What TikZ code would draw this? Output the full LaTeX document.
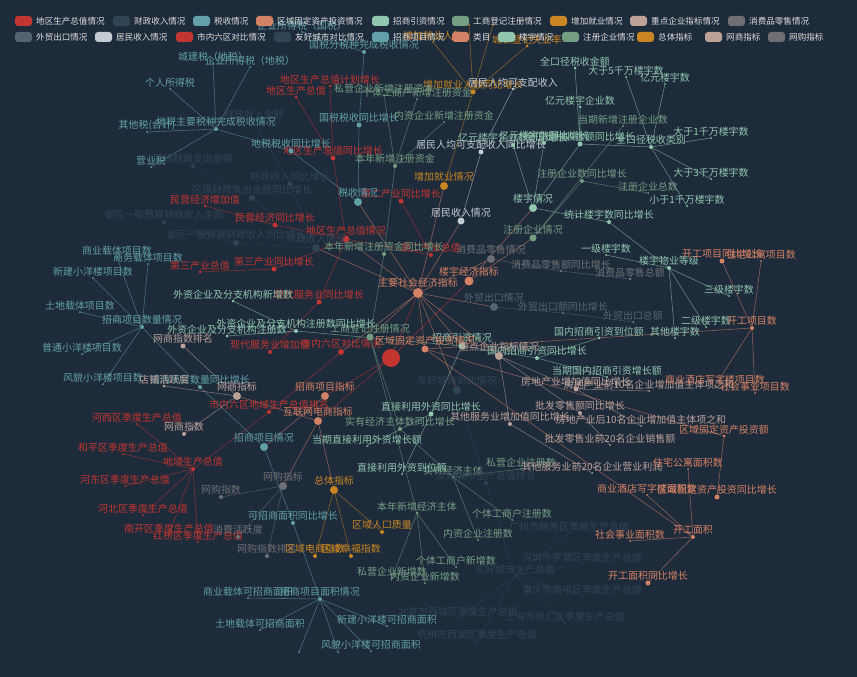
\documentclass[tikz,border=0pt]{standalone}
\usepackage{fontspec}
\setmainfont{Noto Sans CJK SC}
\usepackage{tikz}
\pgfdeclarelayer{bg}
\pgfsetlayers{bg,main}

\definecolor{bgc}{HTML}{1E2B3B}
\definecolor{legc}{HTML}{E0E0E0}
\definecolor{c0}{HTML}{C23531}
\definecolor{c1}{HTML}{2F4554}
\definecolor{c2}{HTML}{61A0A8}
\definecolor{c3}{HTML}{D48265}
\definecolor{c4}{HTML}{91C7AE}
\definecolor{c5}{HTML}{749F83}
\definecolor{c6}{HTML}{CA8622}
\definecolor{c7}{HTML}{BDA29A}
\definecolor{c8}{HTML}{6E7074}
\definecolor{c9}{HTML}{546570}
\definecolor{c10}{HTML}{C4CCD3}

\tikzset{
  gdot/.style 2 args={circle, inner sep=0pt, minimum size={#1*0.3mm}, fill=#2},
  glabel/.style={font=\fontsize{8.5}{9}\selectfont, inner sep=0pt},
  gline/.style={draw=#1, line width=0.5pt, draw opacity=0.6},
  legtext/.style={font=\fontsize{7.3}{8}\selectfont, text=legc, inner sep=0pt, anchor=west}
}
% name, x, y, size (px), colour, label
\newcommand\gn[6]{\node[gdot={#4}{#5}, label distance=0.7mm, label={[glabel, text=#5]above:#6}] (#1) at (#2,#3) {};}

\begin{document}
\begin{tikzpicture}[x=0.3mm, y=-0.3mm]
\begin{pgfonlayer}{bg}
  \fill[bgc] (0,0) rectangle (857,677);
\end{pgfonlayer}
\useasboundingbox (0,0) rectangle (857,677);

% root and categories
\node[gdot={18}{c0}] (root) at (391,358) {};
\gn{zy}{418}{293}{10}{c3}{主要社会经济指标}
\gn{lyjj}{469}{281}{9}{c3}{楼宇经济指标}
\gn{zsxm}{325}{396}{8}{c3}{招商项目指标}
\gn{hlw}{318}{421}{8}{c3}{互联网电商指标}

% 地区生产总值
\gn{dq}{346}{239}{7}{c0}{地区生产总值情况}
\gn{dqa}{330}{86}{3}{c0}{地区生产总值计划增长}
\gn{dqb}{296}{97}{3}{c0}{地区生产总值}
\gn{dqc}{333}{158}{5}{c0}{地区生产总值同比增长}
\gn{dqd}{401}{201}{5}{c0}{第二产业同比增长}
\gn{dqe}{431}{255}{4}{c0}{第二产业总值}
\gn{dqf}{200}{272}{3}{c0}{第三产业总值}
\gn{dqg}{274}{269}{5}{c0}{第三产业同比增长}
\gn{dqh}{205}{206}{3}{c0}{民营经济增加值}
\gn{dqi}{275}{225}{5}{c0}{民营经济同比增长}
\gn{dqj}{319}{302}{5}{c0}{现代服务业同比增长}
\gn{dqk}{270}{352}{4}{c0}{现代服务业增加值}

% 市内六区
\gn{ln}{341}{352}{6}{c0}{市内六区对比情况}
\gn{lna}{269}{412}{4}{c0}{市内六区地域生产总值排名}
\gn{lnb}{193}{469}{4}{c0}{地域生产总值}
\gn{lnc}{137}{424}{2}{c0}{河西区季度生产总值}
\gn{lnd}{123}{454}{2}{c0}{和平区季度生产总值}
\gn{lne}{125}{486}{2}{c0}{河东区季度生产总值}
\gn{lnf}{143}{515}{2}{c0}{河北区季度生产总值}
\gn{lng}{169}{535}{2}{c0}{南开区季度生产总值}
\gn{lnh}{198}{542}{2}{c0}{红桥区季度生产总值}

% 财政收入
\gn{cz}{316}{248}{8}{c1}{财政收入情况}
\gn{cza}{254}{121}{3}{c1}{财政收入金额}
\gn{czb}{290}{184}{5}{c1}{财政收入同比增长}
\gn{czc}{193}{166}{4}{c1}{区级财政支出金额}
\gn{czd}{252}{198}{6}{c1}{区级财政支出金额同比增长}
\gn{cze}{164}{222}{4}{c1}{留区一般预算财政收入金额}
\gn{czf}{236}{243}{6}{c1}{留区一般预算财政收入同比增长}

% 税收
\gn{sh}{358}{202}{8}{c2}{税收情况}
\gn{sha}{216}{129}{4}{c2}{地税主要税种完成税收情况}
\gn{shb}{291}{151}{5}{c2}{地税税收同比增长}
\gn{shc}{213}{63}{2}{c2}{城建税（地税）}
\gn{shd}{250}{67}{2}{c2}{企业所得税（地税）}
\gn{she}{170}{89}{2}{c2}{个人所得税}
\gn{shf}{147}{132}{2}{c2}{其他税(合计)}
\gn{shg}{151}{167}{2}{c2}{营业税}
\gn{shh}{364}{52}{4}{c2}{国税分税种完成税收情况}
\gn{shi}{359}{125}{5}{c2}{国税税收同比增长}
\gn{shj}{302}{32}{2}{c2}{企业所得税（国税）}

% 增加就业
\gn{jy}{444}{186}{8}{c6}{增加就业情况}
\gn{jya}{473}{92}{5}{c6}{增加就业人数同比增长}
\gn{jyb}{433}{42}{2}{c6}{增加就业人数}
\gn{jyc}{527}{46}{3}{c6}{城镇登记失业率}
\node[gdot={2}{c6}] (jyd) at (469,25) {};
\node[gdot={2}{c6}] (jye) at (493,25) {};

% 居民收入
\gn{jm}{461}{221}{7}{c10}{居民收入情况}
\gn{jma}{481}{152}{5}{c10}{居民人均可支配收入同比增长}
\gn{jmb}{513}{89}{3}{c10}{居民人均可支配收入}

% 工商登记注册
\gn{gs}{370}{337}{7}{c5}{工商登记注册情况}
\gn{gsa}{395}{166}{4}{c5}{本年新增注册资金}
\gn{gsb}{384}{95}{2}{c5}{私营企业新增注册资本}
\gn{gsc}{417}{99}{2}{c5}{个体工商户新增注册资金}
\gn{gsd}{444}{122}{2}{c5}{内资企业新增注册资金}
\gn{gse}{384}{254}{4}{c5}{本年新增注册资金同比增长}
\gn{gsf}{400}{429}{4}{c5}{实有经济主体数同比增长}
\gn{gsg}{453}{477}{3}{c5}{实有经济主体}
\gn{gsh}{521}{469}{2}{c5}{私营企业注册数}
\gn{gsi}{512}{520}{2}{c5}{个体工商户注册数}
\gn{gsj}{478}{540}{2}{c5}{内资企业注册数}
\gn{gsk}{417}{513}{3}{c5}{本年新增经济主体}
\gn{gsl}{392}{578}{2}{c5}{私营企业新增数}
\gn{gsm}{425}{583}{2}{c5}{内资企业新增数}
\gn{gsn}{456}{567}{2}{c5}{个体工商户新增数}

% 招商引资
\gn{zs}{462}{346}{7}{c4}{招商引资情况}
\gn{zsa}{537}{358}{4}{c4}{国内招商引资同比增长}
\gn{zsb}{599}{338}{3}{c4}{国内招商引资到位额}
\gn{zsc}{607}{377}{2}{c4}{当期国内招商引资增长额}
\gn{zsd}{431}{414}{5}{c4}{直接利用外资同比增长}
\gn{zse}{367}{446}{2}{c4}{当期直接利用外资增长额}
\gn{zsf}{402}{474}{2}{c4}{直接利用外资到位额}
\gn{zsg}{233}{301}{3}{c4}{外资企业及分支机构新增数}
\gn{zsh}{227}{336}{3}{c4}{外资企业及分支机构注册数}
\gn{zsi}{296}{331}{4}{c4}{外资企业及分支机构注册数同比增长}

% 重点企业
\gn{zd}{499}{356}{8}{c7}{重点企业指标情况}
\gn{zda}{576}{389}{5}{c7}{房地产业增加值同比增长}
\gn{zdb}{649}{391}{2}{c7}{房地产业前10名企业增加值主体项之和}
\gn{zdc}{641}{426}{2}{c7}{房地产业后10名企业增加值主体项之和}
\gn{zdd}{580}{413}{4}{c7}{批发零售额同比增长}
\gn{zde}{610}{445}{2}{c7}{批发零售业前20名企业销售额}
\gn{zdf}{510}{424}{4}{c7}{其他服务业增加值同比增长}
\gn{zdg}{592}{473}{2}{c7}{其他服务业前20名企业营业利润}

% 消费品零售, 外贸
\gn{xf}{491}{259}{8}{c8}{消费品零售情况}
\gn{xfa}{561}{271}{3}{c8}{消费品零售额同比增长}
\gn{xfb}{630}{279}{3}{c8}{消费品零售总额}
\gn{wm}{494}{307}{8}{c9}{外贸出口情况}
\gn{wma}{563}{313}{3}{c9}{外贸出口额同比增长}
\gn{wmb}{633}{322}{3}{c9}{外贸出口总额}

% 友好城市
\gn{yh}{457}{390}{8}{c1}{友好城市对比情况}
\gn{yha}{486}{483}{4}{c1}{友好城市生产总值排名}
\gn{yhb}{515}{576}{3}{c1}{友好城市生产总值}
\gn{yhc}{569}{533}{2}{c1}{广州市越秀区季度生产总值}
\gn{yhd}{582}{564}{2}{c1}{深圳市罗湖区季度生产总值}
\gn{yhe}{582}{596}{2}{c1}{重庆市渝中区季度生产总值}
\gn{yhf}{458}{618}{2}{c1}{北京市西城区季度生产总值}
\gn{yhg}{565}{623}{2}{c1}{上海市徐汇区季度生产总值}
\gn{yhh}{477}{641}{2}{c1}{杭州市西湖区季度生产总值}

% 楼宇
\gn{ly}{533}{208}{8}{c4}{楼宇情况}
\gn{lya}{609}{222}{4}{c4}{统计楼宇数同比增长}
\gn{lyb}{669}{268}{4}{c4}{楼宇物业等级}
\gn{lyc}{606}{255}{2}{c4}{一级楼宇数}
\gn{lyd}{706}{327}{2}{c4}{二级楼宇数}
\gn{lye}{729}{296}{2}{c4}{三级楼宇数}
\gn{lyf}{675}{338}{2}{c4}{其他楼宇数}
\gn{lyg}{580}{144}{5}{c4}{全口径税收金额同比增长}
\gn{lyh}{575}{68}{3}{c4}{全口径税收金额}
\gn{lyi}{580}{107}{3}{c4}{亿元楼宇企业数}
\gn{lyj}{651}{147}{4}{c4}{全口径税收类别}
\gn{lyk}{626}{77}{2}{c4}{大于5千万楼宇数}
\gn{lyl}{665}{84}{2}{c4}{亿元楼宇数}
\gn{lym}{711}{138}{2}{c4}{大于1千万楼宇数}
\gn{lyn}{711}{179}{2}{c4}{大于3千万楼宇数}
\gn{lyo}{687}{206}{2}{c4}{小于1千万楼宇数}
\gn{lyp}{513}{145}{4}{c4}{亿元楼宇企业数同比增长}
\gn{lyq}{544}{143}{4}{c4}{亿元楼宇数同比增长}

% 注册企业
\gn{zc}{533}{238}{7}{c5}{注册企业情况}
\gn{zca}{582}{181}{4}{c5}{注册企业数同比增长}
\gn{zcb}{648}{193}{2}{c5}{注册企业总数}
\gn{zcc}{623}{126}{2}{c5}{当期新增注册企业数}

% 区域固定资产投资
\gn{gd}{425}{349}{7}{c3}{区域固定资产投资情况}
\gn{gda}{724}{436}{3}{c3}{区域固定资产投资额}
\gn{gdb}{717}{497}{5}{c3}{区域固定资产投资同比增长}
\gn{gdc}{752}{328}{4}{c3}{开工项目数}
\gn{gdd}{722}{261}{5}{c3}{开工项目同比增长}
\gn{gde}{761}{261}{2}{c3}{住宅公寓项目数}
\gn{gdf}{715}{386}{2}{c3}{商业酒店写字楼项目数}
\gn{gdg}{755}{393}{2}{c3}{社会事业项目数}
\gn{gdh}{693}{537}{4}{c3}{开工面积}
\gn{gdi}{688}{469}{2}{c3}{住宅公寓面积数}
\gn{gdj}{647}{495}{2}{c3}{商业酒店写字楼面积数}
\gn{gdk}{630}{541}{2}{c3}{社会事业面积数}
\gn{gdl}{648}{583}{5}{c3}{开工面积同比增长}

% 招商项目
\gn{xm}{264}{447}{8}{c2}{招商项目情况}
\gn{xma}{142}{327}{4}{c2}{招商项目数量情况}
\gn{xmb}{117}{257}{2}{c2}{商业载体项目数}
\gn{xmc}{148}{264}{2}{c2}{商务载体项目数}
\gn{xmd}{93}{278}{2}{c2}{新建小洋楼项目数}
\gn{xme}{80}{312}{2}{c2}{土地载体项目数}
\gn{xmf}{82}{354}{2}{c2}{普通小洋楼项目数}
\gn{xmg}{103}{384}{2}{c2}{风貌小洋楼项目数}
\gn{xmh}{200}{387}{4}{c2}{招商项目数量同比增长}
\gn{xmi}{320}{599}{4}{c2}{招商项目面积情况}
\gn{xmj}{248}{598}{2}{c2}{商业载体可招商面积}
\gn{xmk}{260}{630}{2}{c2}{土地载体可招商面积}
\gn{xml}{387}{626}{2}{c2}{新建小洋楼可招商面积}
\gn{xmm}{371}{651}{2}{c2}{风貌小洋楼可招商面积}
\gn{xmn}{293}{523}{4}{c2}{可招商面积同比增长}
\node[gdot={2}{c2}] (xmo) at (299,652) {};
\node[gdot={2}{c2}] (xmp) at (338,652) {};

% 网商, 网购, 总体
\gn{ws}{237}{396}{8}{c7}{网商指标}
\gn{wsa}{164}{386}{3}{c7}{店铺活跃度}
\gn{wsb}{184}{434}{4}{c7}{网商指数}
\gn{wsc}{183}{346}{5}{c7}{网商指数排名}
\gn{wg}{283}{486}{8}{c8}{网购指标}
\gn{wga}{221}{497}{4}{c8}{网购指数}
\gn{wgb}{238}{537}{4}{c8}{消费活跃度}
\gn{wgc}{267}{556}{4}{c8}{网购指数排名}
\gn{zt}{334}{490}{8}{c6}{总体指标}
\gn{zta}{382}{532}{4}{c6}{区域人口质量}
\gn{ztb}{315}{556}{4}{c6}{区域电商指数}
\gn{ztc}{351}{556}{4}{c6}{区域幸福指数}

% edges
\begin{pgfonlayer}{bg}
\draw[gline=c0] (root) -- (zy) (root) -- (lyjj) (root) -- (zsxm) (root) -- (hlw);
\draw[gline=c3] (zy) -- (dq) (zy) -- (cz) (zy) -- (sh) (zy) -- (gd) (zy) -- (zs)
  (zy) -- (gs) (zy) -- (jy) (zy) -- (zd) (zy) -- (xf) (zy) -- (wm) (zy) -- (jm)
  (zy) -- (ln) (zy) -- (yh) (lyjj) -- (ly) (lyjj) -- (zc) (zsxm) -- (xm)
  (hlw) -- (ws) (hlw) -- (wg) (hlw) -- (zt);
\draw[gline=c0] (dq) -- (dqc) (dqc) -- (dqa) (dqc) -- (dqb) (dq) -- (dqe) (dqe) -- (dqd)
  (dq) -- (dqg) (dqg) -- (dqf) (dq) -- (dqi) (dqi) -- (dqh) (dq) -- (dqj) (dqj) -- (dqk);
\draw[gline=c0] (ln) -- (lna) (lna) -- (lnb) (lnb) -- (lnc) (lnb) -- (lnd) (lnb) -- (lne)
  (lnb) -- (lnf) (lnb) -- (lng) (lnb) -- (lnh);
\draw[gline=c1] (cz) -- (czb) (czb) -- (cza) (cz) -- (czd) (czd) -- (czc) (cz) -- (czf) (czf) -- (cze);
\draw[gline=c2] (sh) -- (shb) (shb) -- (sha) (sha) -- (shc) (sha) -- (shd) (sha) -- (she)
  (sha) -- (shf) (sha) -- (shg) (sh) -- (shi) (shi) -- (shh) (shh) -- (shj);
\draw[gline=c6] (jy) -- (jya) (jya) -- (jyb) (jya) -- (jyc) (jya) -- (jyd) (jya) -- (jye);
\draw[gline=c10] (jm) -- (jma) (jma) -- (jmb);
\draw[gline=c5] (gs) -- (gse) (gse) -- (gsa) (gsa) -- (gsb) (gsa) -- (gsc) (gsa) -- (gsd)
  (gs) -- (gsf) (gsf) -- (gsg) (gsg) -- (gsh) (gsg) -- (gsi) (gsg) -- (gsj)
  (gs) -- (gsk) (gsk) -- (gsl) (gsk) -- (gsm) (gsk) -- (gsn);
\draw[gline=c4] (zs) -- (zsa) (zsa) -- (zsb) (zsa) -- (zsc) (zs) -- (zsd) (zsd) -- (zse)
  (zsd) -- (zsf) (zs) -- (zsi) (zsi) -- (zsg) (zsi) -- (zsh);
\draw[gline=c7] (zd) -- (zda) (zda) -- (zdb) (zda) -- (zdc) (zd) -- (zdd) (zdd) -- (zde)
  (zd) -- (zdf) (zdf) -- (zdg);
\draw[gline=c8] (xf) -- (xfa) (xfa) -- (xfb);
\draw[gline=c9] (wm) -- (wma) (wma) -- (wmb);
\draw[gline=c1] (yh) -- (yha) (yh) -- (yhb) (yhb) -- (yhc) (yhb) -- (yhd) (yhb) -- (yhe)
  (yhb) -- (yhf) (yhb) -- (yhg) (yhb) -- (yhh);
\draw[gline=c4] (ly) -- (lya) (lya) -- (lyb) (lyb) -- (lyc) (lyb) -- (lyd) (lyb) -- (lye)
  (lyb) -- (lyf) (ly) -- (lyg) (lyg) -- (lyh) (lyg) -- (lyi) (lyg) -- (lyj)
  (lyj) -- (lyk) (lyj) -- (lyl) (lyj) -- (lym) (lyj) -- (lyn) (lyj) -- (lyo)
  (ly) -- (lyp) (ly) -- (lyq);
\draw[gline=c5] (zc) -- (zca) (zca) -- (zcb) (zc) -- (zcc);
\draw[gline=c3] (gd) -- (gda) (gda) -- (gdb) (gd) -- (gdc) (gdc) -- (gdd) (gdc) -- (gde)
  (gdc) -- (gdf) (gdc) -- (gdg) (gd) -- (gdh) (gdh) -- (gdi) (gdh) -- (gdj)
  (gdh) -- (gdk) (gdh) -- (gdl);
\draw[gline=c2] (xm) -- (xmh) (xmh) -- (xma) (xma) -- (xmb) (xma) -- (xmc) (xma) -- (xmd)
  (xma) -- (xme) (xma) -- (xmf) (xma) -- (xmg) (xm) -- (xmn) (xmn) -- (xmi)
  (xmi) -- (xmj) (xmi) -- (xmk) (xmi) -- (xml) (xmi) -- (xmm) (xmi) -- (xmo) (xmi) -- (xmp);
\draw[gline=c7] (ws) -- (wsa) (ws) -- (wsb) (ws) -- (wsc);
\draw[gline=c8] (wg) -- (wga) (wg) -- (wgb) (wg) -- (wgc);
\draw[gline=c6] (zt) -- (zta) (zt) -- (ztb) (zt) -- (ztc);
\end{pgfonlayer}

% legend
\foreach \x/\t/\c [count=\i] in {15/地区生产总值情况/c0, 113/财政收入情况/c1, 193/税收情况/c2,
    256/区域固定资产投资情况/c3, 372/招商引资情况/c4, 452/工商登记注册情况/c5,
    550/增加就业情况/c6, 630/重点企业指标情况/c7, 728/消费品零售情况/c8} {
  \fill[\c, rounded corners=0.9mm] (\x,16) rectangle ++(17,10);
  \node[legtext] (lga\i) at (\x+21,21) {\t};
}
\foreach \x/\t/\c [count=\i] in {15/外贸出口情况/c9, 95/居民收入情况/c10, 176/市内六区对比情况/c0,
    274/友好城市对比情况/c1, 372/招商项目情况/c2, 452/类目/c3, 498/楼宇情况/c4,
    562/注册企业情况/c5, 637/总体指标/c6, 705/网商指标/c7, 768/网购指标/c8} {
  \fill[\c, rounded corners=0.9mm] (\x,32) rectangle ++(17,10);
  \node[legtext] (lgb\i) at (\x+21,37) {\t};
}
\end{tikzpicture}
\end{document}
